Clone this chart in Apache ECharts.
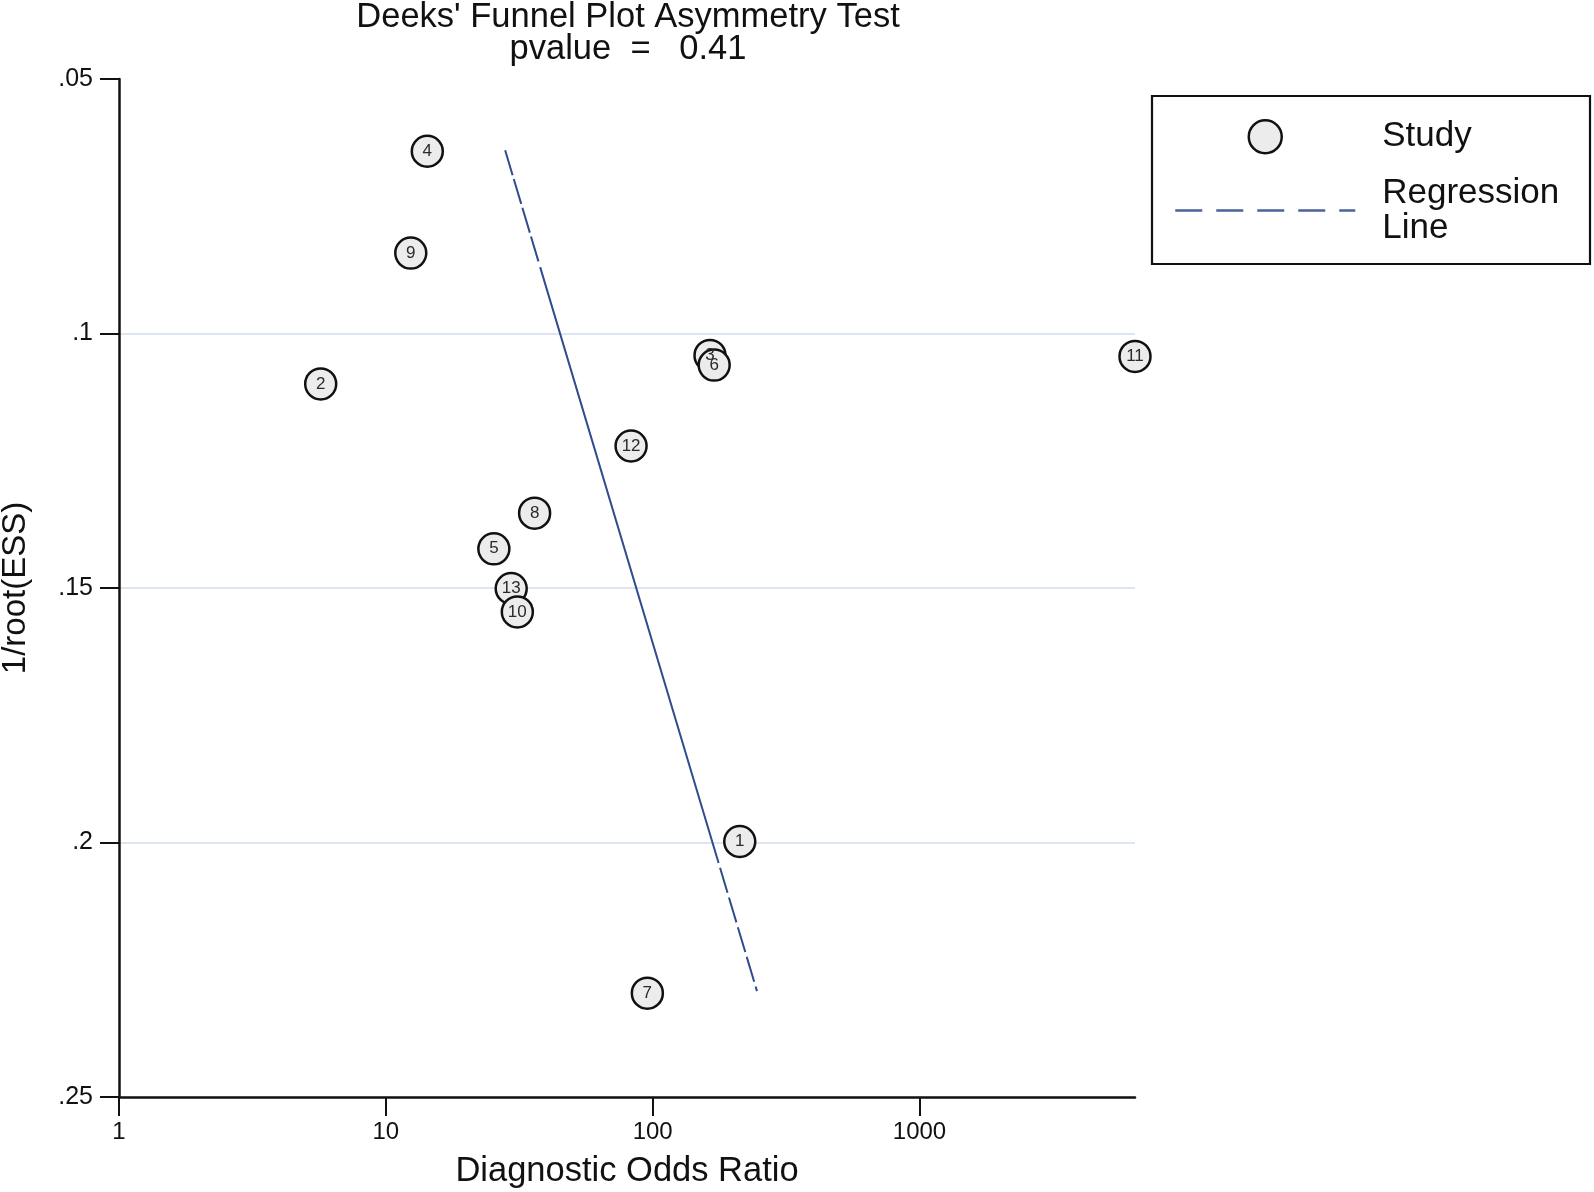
<!DOCTYPE html>
<html>
<head>
<meta charset="utf-8">
<script src="https://cdn.jsdelivr.net/npm/echarts@6/dist/echarts.min.js"></script>
<style>
  html, body { margin: 0; padding: 0; background: #fff; }
  #chart { width: 1594px; height: 1192px; }
</style>
</head>
<body>
<div id="chart"></div>
<script>
// ---- data ----
const studyIds = [1, 2, 3, 4, 5, 6, 7, 8, 9, 13, 10, 11, 12];
const studyDOR = [212, 5.7, 164, 14.3, 25.4, 170, 95.5, 36.1, 12.4, 29.5, 31.1, 6420, 83];
const studyInvRootESS = [0.1998, 0.1099, 0.1043, 0.0642, 0.1423, 0.1062, 0.2296, 0.1353, 0.0842, 0.1501, 0.1547, 0.1045, 0.1221];
const regressionDOR = [28.0, 246];
const regressionInvRootESS = [0.0640, 0.2292];
const xTickValues = [1, 10, 100, 1000];
const yTickLabels = ['.05', '.1', '.15', '.2', '.25'];
const titleText = "Deeks' Funnel Plot Asymmetry Test";
const subtitleText = 'pvalue  =   0.41';

const FONT = '"Liberation Sans", Arial, sans-serif';

const studyData = studyIds.map((id, i) => [studyDOR[i], studyInvRootESS[i], id]);
const regData = regressionDOR.map((x, i) => [x, regressionInvRootESS[i]]);

const chart = echarts.init(document.getElementById('chart'), null, { renderer: 'canvas' });

const option = {
  backgroundColor: '#ffffff',
  animation: false,
  textStyle: { fontFamily: FONT },
  title: {
    text: titleText + '\n' + subtitleText,
    left: 628,
    top: 1,
    padding: 0,
    textAlign: 'center',
    textStyle: { fontFamily: FONT, fontSize: 34.5, fontWeight: 'normal', color: '#111', lineHeight: 32.5 }
  },
  grid: {
    left: 119, right: 459, top: 79, bottom: 95,
    containLabel: false,
    outerBoundsMode: 'none'
  },
  xAxis: {
    type: 'log',
    logBase: 10,
    min: 1,
    max: 6420,
    name: 'Diagnostic Odds Ratio',
    nameLocation: 'middle',
    nameGap: 57,
    nameTextStyle: { fontFamily: FONT, fontSize: 34.5, color: '#111' },
    axisLine: { show: true, onZero: false, lineStyle: { color: '#111', width: 2.5 } },
    axisTick: { show: true, length: 19, lineStyle: { color: '#111', width: 2 }, customValues: xTickValues },
    axisLabel: {
      fontFamily: FONT, fontSize: 24, color: '#111', margin: 23,
      customValues: xTickValues,
      formatter: v => String(Math.round(v))
    },
    splitLine: { show: false },
    minorTick: { show: false }
  },
  yAxis: {
    type: 'value',
    inverse: true,
    min: 0.05,
    max: 0.25,
    interval: 0.05,
    name: '1/root(ESS)',
    nameLocation: 'middle',
    nameGap: 87,
    nameRotate: 90,
    nameTextStyle: { fontFamily: FONT, fontSize: 33, color: '#111' },
    axisLine: { show: true, onZero: false, lineStyle: { color: '#111', width: 2.5 } },
    axisTick: { show: true, length: 19, lineStyle: { color: '#111', width: 2 } },
    axisLabel: {
      fontFamily: FONT, fontSize: 25, color: '#111', margin: 26,
      formatter: (v) => {
        const idx = Math.round((v - 0.05) / 0.05);
        return yTickLabels[idx] !== undefined ? yTickLabels[idx] : '';
      }
    },
    splitLine: {
      show: true, showMinLine: false, showMaxLine: false,
      lineStyle: { color: '#dde4f2', width: 2 }
    }
  },
  legend: {
    orient: 'vertical',
    left: 1174,
    top: 119,
    padding: 0,
    itemWidth: 180,
    itemHeight: 33,
    itemGap: 21,
    selectedMode: false,
    textStyle: { fontFamily: FONT, fontSize: 35, color: '#111', lineHeight: 35, padding: [0, 0, 0, 22] },
    formatter: name => name === 'Regression Line' ? 'Regression\nLine' : name,
    data: [
      { name: 'Study', icon: 'circle', itemStyle: { color: '#ececec', borderColor: '#111', borderWidth: 2.5 } },
      {
        name: 'Regression Line',
        itemStyle: { color: 'rgba(0,0,0,0)', borderColor: 'rgba(0,0,0,0)', borderWidth: 0, opacity: 0 },
        lineStyle: { color: '#4a6399', width: 2.5, type: [27, 14], opacity: 1 }
      }
    ]
  },
  graphic: [
    {
      type: 'rect',
      shape: { x: 1152, y: 96, width: 438, height: 168 },
      style: { fill: 'none', stroke: '#111', lineWidth: 2.2 },
      silent: true
    }
  ],
  series: [
    {
      name: 'Regression Line',
      type: 'line',
      data: regData,
      symbol: 'none',
      showSymbol: false,
      z: 2,
      clip: false,
      itemStyle: { color: '#2f4c8d' },
      lineStyle: {
        color: '#2f4c8d',
        width: 2,
        type: [26, 4, 26, 4, 26, 4, 26, 6, 622, 5, 26, 5, 26, 5, 26, 5, 26, 5, 26, 5, 40, 5]
      }
    },
    {
      name: 'Study',
      type: 'scatter',
      data: studyData,
      symbol: 'circle',
      symbolSize: 31,
      clip: false,
      z: 3,
      itemStyle: { color: '#ececec', borderColor: '#111', borderWidth: 2.5, opacity: 1 },
      label: {
        show: true,
        position: 'inside',
        formatter: p => String(p.value[2]),
        fontFamily: FONT,
        fontSize: 17,
        color: '#2a2a2a'
      },
      emphasis: { disabled: true }
    }
  ]
};

chart.setOption(option);
</script>
</body>
</html>
